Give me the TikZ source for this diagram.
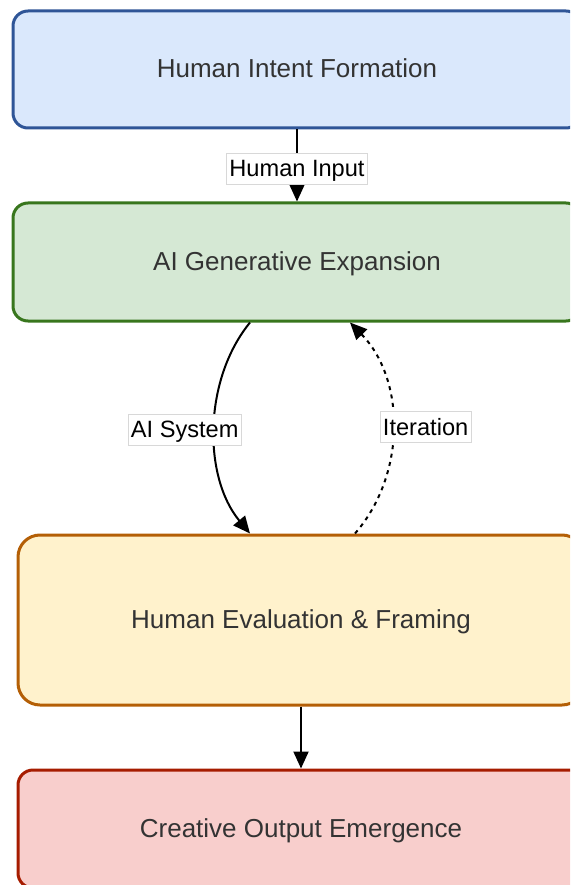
\documentclass[tikz,border=0pt]{standalone}
\usepackage{fontspec}
\setmainfont{Liberation Sans}
\usetikzlibrary{arrows.meta}

\definecolor{blueFill}{HTML}{DAE8FC}
\definecolor{blueLine}{HTML}{2F5597}
\definecolor{greenFill}{HTML}{D5E8D4}
\definecolor{greenLine}{HTML}{38761D}
\definecolor{orangeFill}{HTML}{FFF2CC}
\definecolor{orangeLine}{HTML}{B45F06}
\definecolor{redFill}{HTML}{F8CECC}
\definecolor{redLine}{HTML}{A61C00}
\definecolor{boxText}{HTML}{333333}
\definecolor{labelEdge}{HTML}{D8D8D8}

\tikzset{
  stage/.style={rectangle, rounded corners=15pt, line width=3pt,
    minimum width=568pt, inner sep=0pt, text=boxText,
    text height=19pt, text depth=2pt,
    font=\fontsize{26}{30}\selectfont},
  flow/.style={line width=2pt, -{Triangle[length=17pt,width=15pt]}},
  loopback/.style={flow, dash pattern=on 4pt off 4.5pt},
  tag/.style={fill=white, draw=labelEdge, line width=0.6pt, solid,
    inner xsep=3pt, inner ysep=0pt, minimum height=31pt,
    text height=17pt, text depth=0pt, text=black,
    font=\fontsize{23.6}{27}\selectfont}
}

\begin{document}
\begin{tikzpicture}[x=1pt, y=-1pt]
  \useasboundingbox (0,0) rectangle (570,885);
  \clip (0,0) rectangle (570,885);

  % stages
  \node[stage, draw=blueLine, fill=blueFill, minimum height=117pt]
    (intent) at (297,69.5) {Human Intent Formation};
  \node[stage, draw=greenLine, fill=greenFill, minimum height=118pt]
    (expand) at (297,262) {AI Generative Expansion};
  \node[stage, draw=orangeLine, fill=orangeFill, minimum height=170pt,
    rounded corners=22pt, minimum width=566pt]
    (frame) at (301,620) {Human Evaluation \& Framing};
  \node[stage, draw=redLine, fill=redFill, minimum height=118pt,
    minimum width=566pt]
    (output) at (301,829) {Creative Output Emergence};

  % connectors
  \draw[flow] (intent.south) -- node[tag, yshift=-3pt] {Human Input} (expand.north);

  \draw[flow] ([xshift=-47pt]expand.south)
    .. controls (203,380) and (203,477) ..
    node[pos=0.5, tag, xshift=-30pt, yshift=-1pt] {AI System}
    ([xshift=-51pt]frame.north);

  \draw[loopback] ([xshift=54pt]frame.north)
    .. controls (406,475) and (406,380) ..
    node[pos=0.5, tag, xshift=33pt, yshift=1pt] {Iteration}
    ([xshift=53pt]expand.south);

  \draw[flow] (frame.south) -- (output.north);
\end{tikzpicture}
\end{document}
